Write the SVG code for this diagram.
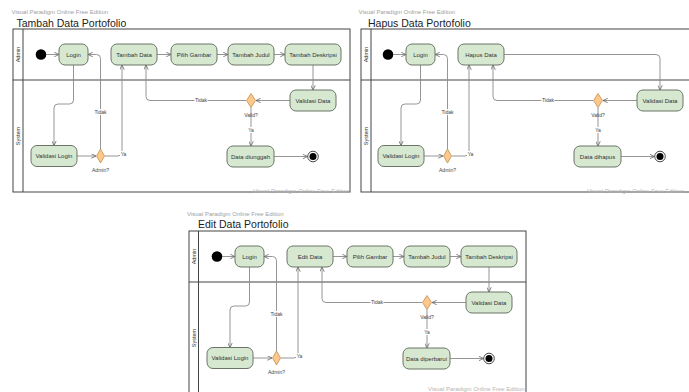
<svg xmlns="http://www.w3.org/2000/svg" width="689" height="392" viewBox="0 0 689 392">
<style>
text{font-family:"Liberation Sans",Arial,sans-serif}
.wm{font-size:6px;fill:#a0a0a0}
.wm2{font-size:6px;fill:#b4b4b4}
.title{font-size:10.5px;fill:#222}
.frame{fill:none;stroke:#444;stroke-width:1}
.lane{font-size:5.5px;fill:#333;text-anchor:middle}
.nd{fill:#d6e8d0;stroke:#6a7567;stroke-width:1}
.nt{font-size:6px;fill:#333;text-anchor:middle}
.dec{fill:#fcc88e;stroke:#c0904a;stroke-width:0.8}
.edge{fill:none;stroke:#8a8a8a;stroke-width:0.9;marker-end:url(#arr)}
.lbl{font-size:5px;fill:#444;text-anchor:middle}
.bg{fill:#fff}
</style>
<defs>
<marker id="arr" viewBox="0 0 10 10" refX="9.5" refY="5" markerWidth="5" markerHeight="5" orient="auto" markerUnits="userSpaceOnUse">
<path d="M0,0.5 L9.5,5 L0,9.5" fill="none" stroke="#666" stroke-width="1.6"/>
</marker>
</defs>
<rect width="689" height="392" fill="#fff"/>

<!-- Diagram 1: Tambah -->
<g id="tambah">
<text class="wm" x="11.5" y="14">Visual Paradigm Online Free Edition</text>
<text class="title" x="16.5" y="26.7">Tambah Data Portofolio</text>
<rect class="frame" x="13" y="29" width="337" height="163"/>
<line class="frame" x1="23" y1="29" x2="23" y2="192"/>
<line class="frame" x1="13" y1="80" x2="350" y2="80"/>
<text class="lane" transform="translate(20,54.5) rotate(-90)">Admin</text>
<text class="lane" transform="translate(20,136) rotate(-90)">System</text>
<g id="t-edges">
<path class="edge" d="M46.3,54.5 H59"/>
<path class="edge" d="M73.5,65 V100 Q73.5,104 69.5,104 H58 Q54,104 54,108 V145.5"/>
<path class="edge" d="M77,156 H96"/>
<path class="edge" d="M100.5,149 V58.5 Q100.5,54.5 96.5,54.5 H88"/>
<path class="edge" d="M105,156 H118 Q122,156 122,152 V65"/>
<path class="edge" d="M157,54.5 H171"/>
<path class="edge" d="M217,54.5 H228"/>
<path class="edge" d="M274,54.5 H285"/>
<path class="edge" d="M313,65 V90"/>
<path class="edge" d="M290,100.5 H256"/>
<path class="edge" d="M246,100.5 H150 Q146,100.5 146,96.5 V65"/>
<path class="edge" d="M251,107.5 V146"/>
<path class="edge" d="M274,156.5 H307.5"/>
<rect class="bg" x="94" y="109" width="13" height="6"/><text class="lbl" x="100.5" y="114">Tidak</text>
<rect class="bg" x="120" y="151" width="7" height="6"/><text class="lbl" x="123.5" y="155.5">Ya</text>
<rect class="bg" x="194.5" y="97.5" width="13" height="6"/><text class="lbl" x="201" y="102.3">Tidak</text>
<rect class="bg" x="247.5" y="127" width="7" height="6"/><text class="lbl" x="251" y="131.8">Ya</text>
</g>
<g id="t-start"><circle cx="41" cy="54.5" r="5.3" fill="#000"/></g>
<g id="t-login"><rect class="nd" x="59" y="44" width="29" height="21" rx="6"/><text class="nt" x="73.5" y="56.6">Login</text></g>
<g id="t-tambahdata"><rect class="nd" x="111" y="44" width="46" height="21" rx="6"/><text class="nt" x="134" y="56.6">Tambah Data</text></g>
<g id="t-pilihgambar"><rect class="nd" x="171" y="44" width="46" height="21" rx="6"/><text class="nt" x="194" y="56.6">Pilih Gambar</text></g>
<g id="t-tambahjudul"><rect class="nd" x="228" y="44" width="46" height="21" rx="6"/><text class="nt" x="251" y="56.6">Tambah Judul</text></g>
<g id="t-tambahdeskripsi"><rect class="nd" x="285" y="44" width="56" height="21" rx="6"/><text class="nt" x="313" y="56.6">Tambah Deskripsi</text></g>
<g id="t-validasidata"><rect class="nd" x="290" y="90" width="46" height="21" rx="6"/><text class="nt" x="313" y="102.6">Validasi Data</text></g>
<g id="t-valid"><polygon class="dec" points="251,93.5 255.5,100.5 251,107.5 246.5,100.5"/><text class="lbl" x="251" y="117">Valid?</text></g>
<g id="t-dataunggah"><rect class="nd" x="227" y="146" width="47" height="21" rx="6"/><text class="nt" x="250.5" y="158.6">Data diunggah</text></g>
<g id="t-end"><circle cx="313" cy="156.5" r="5.3" fill="#fff" stroke="#333" stroke-width="0.9"/><circle cx="313" cy="156.5" r="3.5" fill="#000"/></g>
<g id="t-validasilogin"><rect class="nd" x="31" y="145.5" width="46" height="21" rx="6"/><text class="nt" x="54" y="158.1">Validasi Login</text></g>
<g id="t-admin"><polygon class="dec" points="100.5,149 104.5,156 100.5,163 96.5,156"/><text class="lbl" x="100.5" y="172">Admin?</text></g>
<text class="wm2" x="253" y="192.5">Visual Paradigm Online Free Edition</text>
</g>

<!-- Diagram 2: Hapus -->
<g id="hapus" transform="translate(347,0)">
<text class="wm" x="11.5" y="14">Visual Paradigm Online Free Edition</text>
<text class="title" x="21" y="26.7">Hapus Data Portofolio</text>
<rect class="frame" x="14" y="29" width="337" height="163"/>
<line class="frame" x1="24" y1="29" x2="24" y2="192"/>
<line class="frame" x1="14" y1="80" x2="351" y2="80"/>
<text class="lane" transform="translate(21,54.5) rotate(-90)">Admin</text>
<text class="lane" transform="translate(21,136) rotate(-90)">System</text>
<g id="h-edges">
<path class="edge" d="M46.3,54.5 H59"/>
<path class="edge" d="M73.5,65 V100 Q73.5,104 69.5,104 H58 Q54,104 54,108 V145.5"/>
<path class="edge" d="M77,156 H96"/>
<path class="edge" d="M100.5,149 V58.5 Q100.5,54.5 96.5,54.5 H88"/>
<path class="edge" d="M105,156 H118 Q122,156 122,152 V65"/>
<path class="edge" d="M157,54.5 H309 Q313,54.5 313,58.5 V90"/>
<path class="edge" d="M290,100.5 H256"/>
<path class="edge" d="M246,100.5 H150 Q146,100.5 146,96.5 V65"/>
<path class="edge" d="M251,107.5 V146"/>
<path class="edge" d="M274,156.5 H307.5"/>
<rect class="bg" x="94" y="109" width="13" height="6"/><text class="lbl" x="100.5" y="114">Tidak</text>
<rect class="bg" x="120" y="151" width="7" height="6"/><text class="lbl" x="123.5" y="155.5">Ya</text>
<rect class="bg" x="194.5" y="97.5" width="13" height="6"/><text class="lbl" x="201" y="102.3">Tidak</text>
<rect class="bg" x="247.5" y="127" width="7" height="6"/><text class="lbl" x="251" y="131.8">Ya</text>
</g>
<g id="h-start"><circle cx="41" cy="54.5" r="5.3" fill="#000"/></g>
<g id="h-login"><rect class="nd" x="59" y="44" width="29" height="21" rx="6"/><text class="nt" x="73.5" y="56.6">Login</text></g>
<g id="h-hapusdata"><rect class="nd" x="111" y="44" width="46" height="21" rx="6"/><text class="nt" x="134" y="56.6">Hapus Data</text></g>
<g id="h-validasidata"><rect class="nd" x="290" y="90" width="46" height="21" rx="6"/><text class="nt" x="313" y="102.6">Validasi Data</text></g>
<g id="h-valid"><polygon class="dec" points="251,93.5 255.5,100.5 251,107.5 246.5,100.5"/><text class="lbl" x="251" y="117">Valid?</text></g>
<g id="h-datahapus"><rect class="nd" x="227" y="146" width="47" height="21" rx="6"/><text class="nt" x="250.5" y="158.6">Data dihapus</text></g>
<g id="h-end"><circle cx="313" cy="156.5" r="5.3" fill="#fff" stroke="#333" stroke-width="0.9"/><circle cx="313" cy="156.5" r="3.5" fill="#000"/></g>
<g id="h-validasilogin"><rect class="nd" x="31" y="145.5" width="46" height="21" rx="6"/><text class="nt" x="54" y="158.1">Validasi Login</text></g>
<g id="h-admin"><polygon class="dec" points="100.5,149 104.5,156 100.5,163 96.5,156"/><text class="lbl" x="100.5" y="172">Admin?</text></g>
<text class="wm2" x="240" y="192.5">Visual Paradigm Online Free Edition</text>
</g>

<!-- Diagram 3: Edit -->
<g id="edit" transform="translate(176,202)">
<text class="wm" x="11" y="13.5">Visual Paradigm Online Free Edition</text>
<text class="title" x="22" y="25.7">Edit Data Portofolio</text>
<rect class="frame" x="13" y="29" width="337" height="163"/>
<line class="frame" x1="22.5" y1="29" x2="22.5" y2="192"/>
<line class="frame" x1="13" y1="80" x2="350" y2="80"/>
<text class="lane" transform="translate(19.8,54.5) rotate(-90)">Admin</text>
<text class="lane" transform="translate(19.8,136) rotate(-90)">System</text>
<g id="e-edges">
<path class="edge" d="M46.3,54.5 H59"/>
<path class="edge" d="M73.5,65 V100 Q73.5,104 69.5,104 H58 Q54,104 54,108 V145.5"/>
<path class="edge" d="M77,156 H96"/>
<path class="edge" d="M100.5,149 V58.5 Q100.5,54.5 96.5,54.5 H88"/>
<path class="edge" d="M105,156 H118 Q122,156 122,152 V65"/>
<path class="edge" d="M157,54.5 H171"/>
<path class="edge" d="M217,54.5 H228"/>
<path class="edge" d="M274,54.5 H285"/>
<path class="edge" d="M313,65 V90"/>
<path class="edge" d="M290,100.5 H256"/>
<path class="edge" d="M246,100.5 H150 Q146,100.5 146,96.5 V65"/>
<path class="edge" d="M251,107.5 V146"/>
<path class="edge" d="M274,156.5 H307.5"/>
<rect class="bg" x="94" y="109" width="13" height="6"/><text class="lbl" x="100.5" y="114">Tidak</text>
<rect class="bg" x="120" y="151" width="7" height="6"/><text class="lbl" x="123.5" y="155.5">Ya</text>
<rect class="bg" x="194.5" y="97.5" width="13" height="6"/><text class="lbl" x="201" y="102.3">Tidak</text>
<rect class="bg" x="247.5" y="127" width="7" height="6"/><text class="lbl" x="251" y="131.8">Ya</text>
</g>
<g id="e-start"><circle cx="41" cy="54.5" r="5.3" fill="#000"/></g>
<g id="e-login"><rect class="nd" x="59" y="44" width="29" height="21" rx="6"/><text class="nt" x="73.5" y="56.6">Login</text></g>
<g id="e-editdata"><rect class="nd" x="111" y="44" width="46" height="21" rx="6"/><text class="nt" x="134" y="56.6">Edit Data</text></g>
<g id="e-pilihgambar"><rect class="nd" x="171" y="44" width="46" height="21" rx="6"/><text class="nt" x="194" y="56.6">Pilih Gambar</text></g>
<g id="e-tambahjudul"><rect class="nd" x="228" y="44" width="46" height="21" rx="6"/><text class="nt" x="251" y="56.6">Tambah Judul</text></g>
<g id="e-tambahdeskripsi"><rect class="nd" x="285" y="44" width="56" height="21" rx="6"/><text class="nt" x="313" y="56.6">Tambah Deskripsi</text></g>
<g id="e-validasidata"><rect class="nd" x="290" y="90" width="46" height="21" rx="6"/><text class="nt" x="313" y="102.6">Validasi Data</text></g>
<g id="e-valid"><polygon class="dec" points="251,93.5 255.5,100.5 251,107.5 246.5,100.5"/><text class="lbl" x="251" y="117">Valid?</text></g>
<g id="e-dataperbarui"><rect class="nd" x="227" y="146" width="47" height="21" rx="6"/><text class="nt" x="250.5" y="158.6">Data diperbarui</text></g>
<g id="e-end"><circle cx="313" cy="156.5" r="5.3" fill="#fff" stroke="#333" stroke-width="0.9"/><circle cx="313" cy="156.5" r="3.5" fill="#000"/></g>
<g id="e-validasilogin"><rect class="nd" x="31" y="145.5" width="46" height="21" rx="6"/><text class="nt" x="54" y="158.1">Validasi Login</text></g>
<g id="e-admin"><polygon class="dec" points="100.5,149 104.5,156 100.5,163 96.5,156"/><text class="lbl" x="100.5" y="172">Admin?</text></g>
<text class="wm2" x="252" y="188.5">Visual Paradigm Online Free Edition</text>
</g>
</svg>
